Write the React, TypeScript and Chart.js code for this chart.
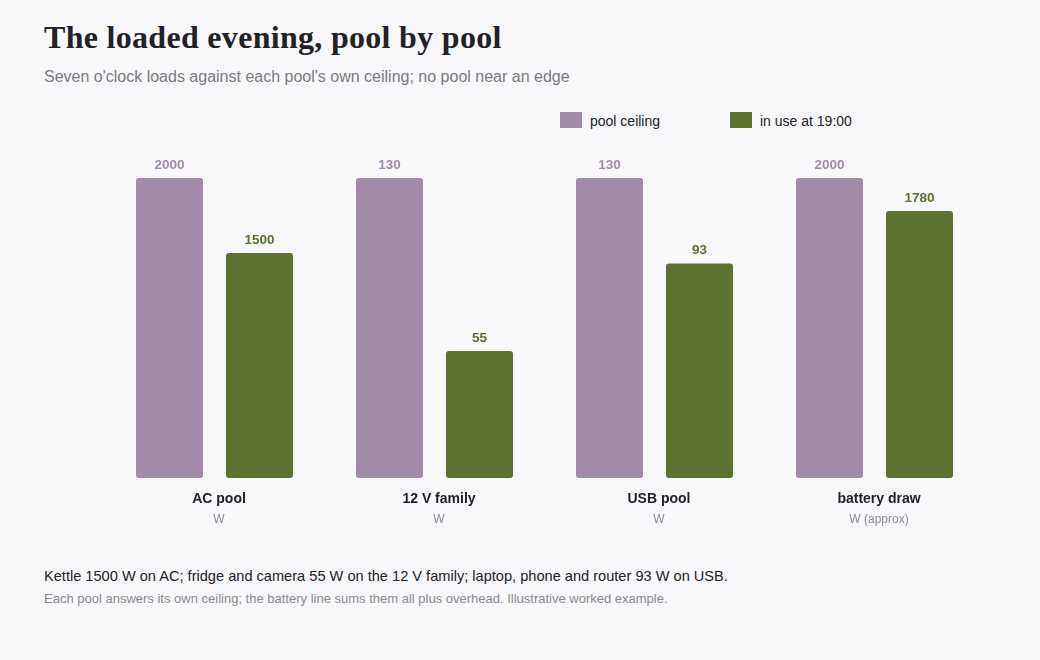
import React, { useEffect, useRef } from "react";
import { Chart, registerables } from "chart.js";

Chart.register(...registerables);

// Pools and their units
const categories = ["AC pool", "12 V family", "USB pool", "battery draw"];
const units = ["W", "W", "W", "W (approx)"];
// Each pool's own ceiling, in watts
const ceilings = [2000, 130, 130, 2000];
// Load drawn at 19:00, in watts
const inUse = [1500, 55, 93, 1780];

const CEILING_COLOR = "#a18ba8";
const USE_COLOR = "#5e722f";
const SANS = '"Liberation Sans", Arial, sans-serif';

// Each bar is shown against its own pool's ceiling, so heights are shares of that ceiling
const ceilingShare = ceilings.map((c, i) => c / ceilings[i]);
const useShare = inUse.map((v, i) => v / ceilings[i]);
const rawValues = [ceilings, inUse];

// Category captions sit slightly right of the bar pair's centre
const CAPTION_SHIFT = 4.5;

const labelsPlugin = {
  id: "poolLabels",
  afterDatasetsDraw(chart: any) {
    const { ctx } = chart;
    ctx.save();
    chart.data.datasets.forEach((ds: any, di: number) => {
      const meta = chart.getDatasetMeta(di);
      meta.data.forEach((bar: any, i: number) => {
        ctx.font = `bold 13.5px ${SANS}`;
        ctx.fillStyle = ds.backgroundColor;
        ctx.textAlign = "center";
        ctx.textBaseline = "middle";
        ctx.fillText(String(rawValues[di][i]), bar.x, bar.y - 13);
      });
    });
    const xs = chart.scales.x;
    const bottom = chart.chartArea.bottom;
    categories.forEach((c, i) => {
      const x = xs.getPixelForValue(i) + CAPTION_SHIFT;
      ctx.textAlign = "center";
      ctx.textBaseline = "middle";
      ctx.font = `bold 14px ${SANS}`;
      ctx.fillStyle = "#222226";
      ctx.fillText(c, x, bottom + 21);
      ctx.font = `12px ${SANS}`;
      ctx.fillStyle = "#8a8a90";
      ctx.fillText(units[i], x, bottom + 42);
    });
    ctx.restore();
  },
};

function PoolChart() {
  const ref = useRef<HTMLCanvasElement | null>(null);
  useEffect(() => {
    if (!ref.current) return;
    const chart = new Chart(ref.current, {
      type: "bar",
      data: {
        labels: categories,
        datasets: [
          {
            label: "pool ceiling",
            data: ceilingShare,
            backgroundColor: CEILING_COLOR,
            borderRadius: 3,
            borderSkipped: false,
            categoryPercentage: 0.818,
            barPercentage: 0.745,
          },
          {
            label: "in use at 19:00",
            data: useShare,
            backgroundColor: USE_COLOR,
            borderRadius: 3,
            borderSkipped: false,
            categoryPercentage: 0.818,
            barPercentage: 0.745,
          },
        ],
      },
      options: {
        animation: false,
        responsive: false,
        maintainAspectRatio: false,
        layout: { padding: { top: 38, bottom: 62, left: 104.5, right: 55.5 } },
        plugins: { legend: { display: false }, tooltip: { enabled: false } },
        scales: {
          x: { display: false },
          y: { display: false, min: 0, max: 1 },
        },
      },
      plugins: [labelsPlugin],
    });
    return () => chart.destroy();
  }, []);
  return (
    <canvas
      ref={ref}
      width={1040}
      height={400}
      style={{ position: "absolute", left: 0, top: 140, width: 1040, height: 400 }}
    />
  );
}

export default function App() {
  const box = (color: string) => ({
    position: "absolute" as const,
    width: 22,
    height: 16,
    background: color,
    top: 112,
  });
  const legendText = {
    position: "absolute" as const,
    top: 112,
    font: `14px ${SANS}`,
    color: "#222226",
    lineHeight: "18px",
  };
  return (
    <div
      style={{
        position: "fixed",
        left: 0,
        top: 0,
        width: 1040,
        height: 660,
        background: "#f8f8fa",
        overflow: "hidden",
      }}
    >
      <div
        style={{
          position: "absolute",
          left: 44,
          top: 19,
          font: 'bold 32px "Liberation Serif", "Times New Roman", serif',
          letterSpacing: "0.3px",
          color: "#222226",
          lineHeight: "36px",
          whiteSpace: "nowrap",
        }}
      >
        The loaded evening, pool by pool
      </div>
      <div
        style={{
          position: "absolute",
          left: 44,
          top: 67,
          font: `16px ${SANS}`,
          color: "#7a7a80",
          lineHeight: "20px",
          whiteSpace: "nowrap",
        }}
      >
        Seven o'clock loads against each pool's own ceiling; no pool near an edge
      </div>
      <div style={{ ...box(CEILING_COLOR), left: 560 }} />
      <div style={{ ...legendText, left: 590 }}>pool ceiling</div>
      <div style={{ ...box(USE_COLOR), left: 730 }} />
      <div style={{ ...legendText, left: 760 }}>in use at 19:00</div>
      <PoolChart />
      <div
        style={{
          position: "absolute",
          left: 44,
          top: 567,
          font: `14.6px ${SANS}`,
          color: "#222226",
          lineHeight: "18px",
          whiteSpace: "nowrap",
        }}
      >
        Kettle 1500 W on AC; fridge and camera 55 W on the 12 V family; laptop, phone and router 93 W on USB.
      </div>
      <div
        style={{
          position: "absolute",
          left: 44,
          top: 591,
          font: `13px ${SANS}`,
          color: "#8a8a90",
          lineHeight: "16px",
          whiteSpace: "nowrap",
        }}
      >
        Each pool answers its own ceiling; the battery line sums them all plus overhead. Illustrative worked example.
      </div>
    </div>
  );
}
